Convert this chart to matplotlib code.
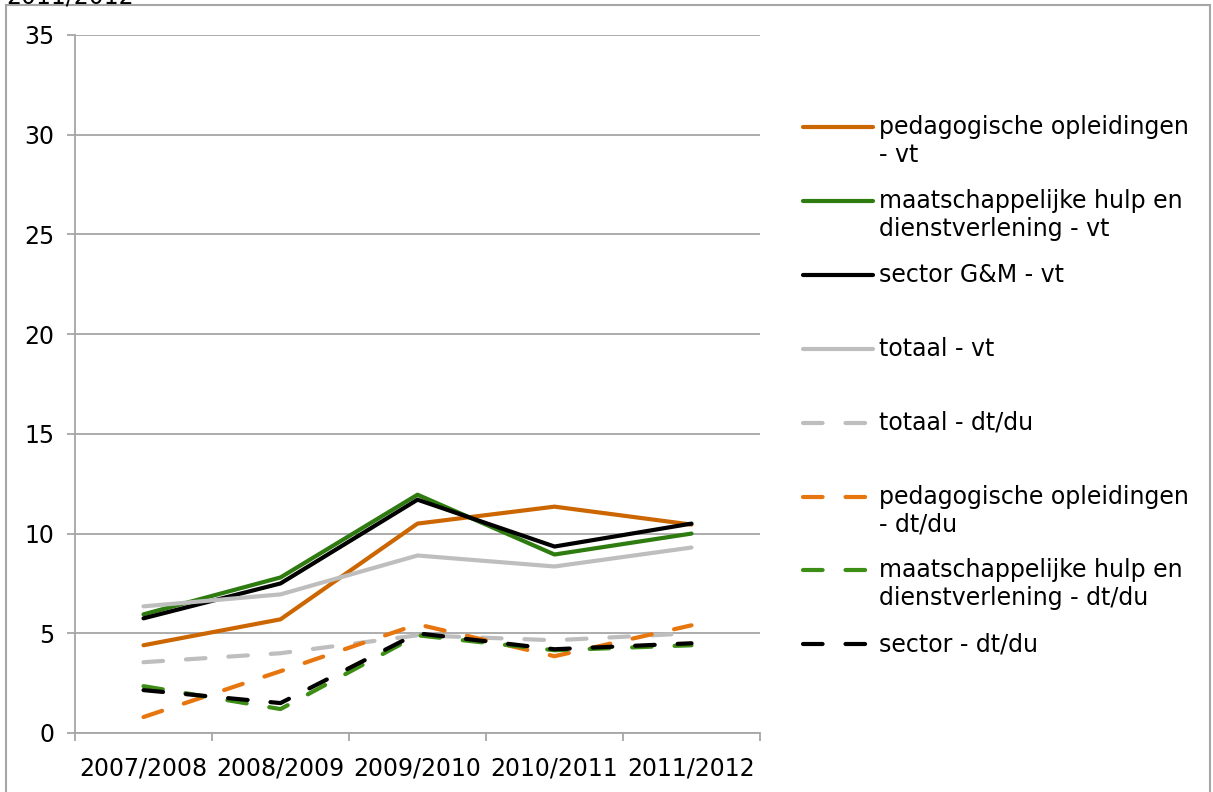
import matplotlib
matplotlib.use('Agg')
import matplotlib.pyplot as plt
from matplotlib.lines import Line2D
from matplotlib.patches import Rectangle

# data
JAREN = ['2007/2008', '2008/2009', '2009/2010', '2010/2011', '2011/2012']

PED_VT = [4.4, 5.7, 10.5, 11.35, 10.45]
MAAT_VT = [5.95, 7.8, 11.95, 8.95, 10.0]
SECTOR_VT = [5.75, 7.5, 11.7, 9.35, 10.5]
TOTAAL_VT = [6.35, 6.95, 8.9, 8.35, 9.3]
TOTAAL_DT = [3.55, 4.0, 4.9, 4.65, 5.0]
PED_DT = [0.8, 3.1, 5.45, 3.85, 5.4]
MAAT_DT = [2.35, 1.2, 4.9, 4.15, 4.4]
SECTOR_DT = [2.15, 1.5, 5.0, 4.2, 4.5]

LABELS = ['pedagogische opleidingen\n- vt',
          'maatschappelijke hulp en\ndienstverlening - vt',
          'sector G&M - vt',
          'totaal - vt',
          'totaal - dt/du',
          'pedagogische opleidingen\n- dt/du',
          'maatschappelijke hulp en\ndienstverlening - dt/du',
          'sector - dt/du']

# styles
W, H = 1213, 792
DASH = (0, (4.7, 5.5))
LW = 3.0
GRIJS = '#A6A6A6'

SERIES = [
    (PED_VT, '#CC6600', '-'),
    (MAAT_VT, '#2E7B10', '-'),
    (SECTOR_VT, '#000000', '-'),
    (TOTAAL_VT, '#BEBEBE', '-'),
    (TOTAAL_DT, '#BEBEBE', DASH),
    (PED_DT, '#E8760E', DASH),
    (MAAT_DT, '#3D8E14', DASH),
    (SECTOR_DT, '#000000', DASH),
]

plt.rcParams['font.family'] = 'DejaVu Sans'
FS = 17

fig = plt.figure(figsize=(W / 100, H / 100), dpi=100)
ax = fig.add_axes([75 / W, 1 - 733 / H, (760 - 75) / W, (733 - 35) / H])

x = list(range(len(JAREN)))
for (vals, kleur, stijl) in SERIES:
    ax.plot(x, vals, color=kleur, linestyle=stijl, linewidth=LW,
            solid_capstyle='round', dash_capstyle='round', zorder=3)

ax.set_xlim(-0.5, len(JAREN) - 0.5)
ax.set_ylim(0, 35)
ax.set_yticks(range(0, 36, 5))
ax.yaxis.grid(True, color=GRIJS, linewidth=1.3)
ax.set_axisbelow(True)

# x ticks at category boundaries, labels in the middle
ax.set_xticks([i - 0.5 for i in range(len(JAREN) + 1)])
ax.set_xticklabels([])
ax.set_xticks(x, minor=True)
ax.set_xticklabels(JAREN, minor=True, fontsize=FS)
ax.tick_params(axis='x', which='major', length=6, width=1.3, color=GRIJS)
ax.tick_params(axis='x', which='minor', length=0, pad=17)
ax.tick_params(axis='y', length=6, width=1.3, color=GRIJS, pad=9, labelsize=FS)

for s in ['top', 'right']:
    ax.spines[s].set_visible(False)
for s in ['left', 'bottom']:
    ax.spines[s].set_color(GRIJS)
    ax.spines[s].set_linewidth(1.3)

# legend, Excel style (handle on first text line)
Y0, DY, LINE = 127, 73.9, 28
for i, ((vals, kleur, stijl), lab) in enumerate(zip(SERIES, LABELS)):
    y = Y0 + i * DY
    fig.add_artist(Line2D([803 / W, 873 / W], [1 - y / H, 1 - y / H],
                          color=kleur, linestyle=stijl, linewidth=LW,
                          solid_capstyle='round', dash_capstyle='round'))
    for k, regel in enumerate(lab.split('\n')):
        fig.text(879 / W, 1 - (y + k * LINE) / H, regel, fontsize=FS,
                 va='center', ha='left')

# frame around the chart and cut-off title
fig.add_artist(Rectangle((6 / W, -0.05), (1210 - 6) / W, 1 - 5 / H + 0.05,
                         transform=fig.transFigure, fill=False,
                         edgecolor=GRIJS, linewidth=1.5))
fig.text(6 / W, 1 - 3 / H, '2011/2012', fontsize=FS, va='baseline', ha='left')

fig.savefig('out.png', dpi=100)
